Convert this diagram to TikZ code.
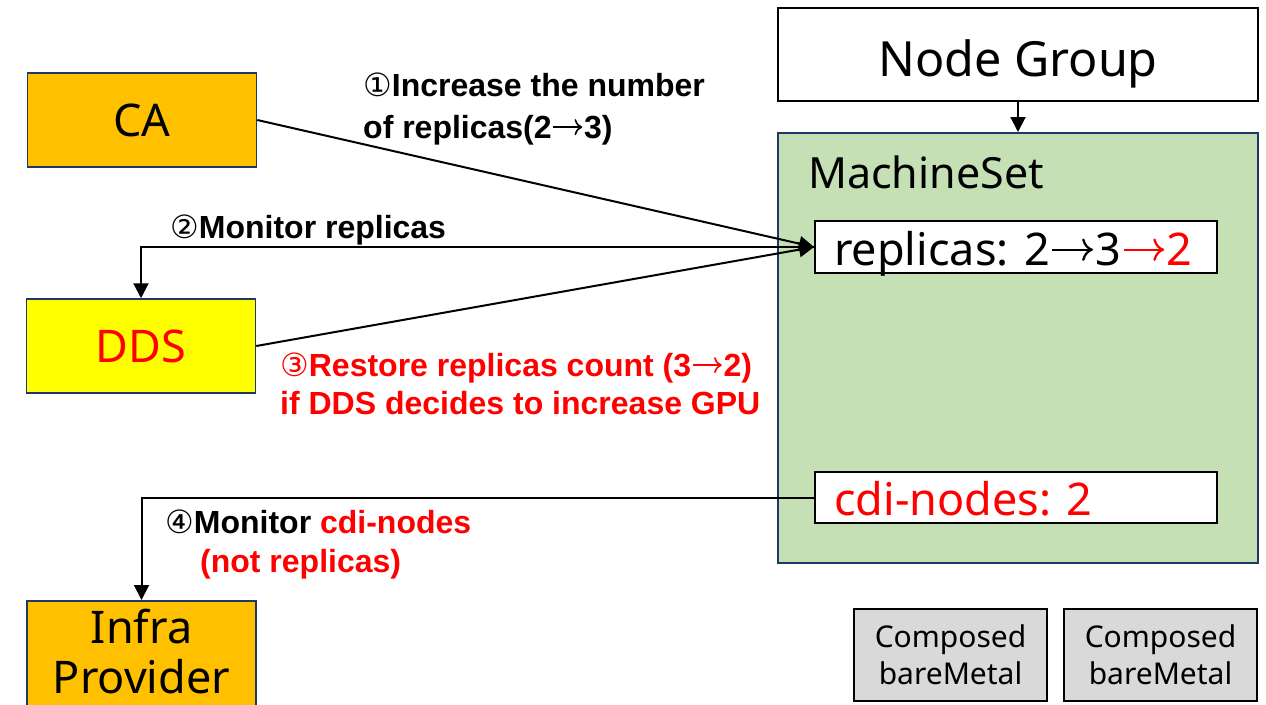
\documentclass[tikz,border=0pt]{standalone}
\usepackage{fontspec}
\setmainfont{Noto Sans}
\newfontfamily\labfont{Liberation Sans}
\newfontfamily\symfont{DejaVu Sans}
\usetikzlibrary{arrows.meta}
\definecolor{boxorange}{HTML}{FFC000}
\definecolor{boxyellow}{HTML}{FFFF00}
\definecolor{msgreen}{HTML}{C5E0B4}
\definecolor{bmgray}{HTML}{D9D9D9}
\definecolor{navy}{HTML}{203864}
\definecolor{hired}{HTML}{FF0000}
% thin text arrow, sized from the current font
\newcommand{\ra}{\hspace{0.03em}\tikz[baseline=-0.34em]\draw[line width=0.05em,-{To[length=0.24em,width=0.5em,line width=0.05em]}] (0pt,0pt) -- (0.9em,0pt);\hspace{0.03em}}
\newcommand{\circnum}[1]{{\symfont\mdseries #1}}
\tikzset{
  actor/.style={draw=navy, line width=1.5pt, minimum width=229pt, minimum height=94pt, inner sep=0pt, font=\fontsize{45}{50}\selectfont, align=center},
  plainbox/.style={draw=black, line width=2pt, fill=white, inner sep=0pt},
  bmbox/.style={draw=black, line width=2pt, fill=bmgray, minimum width=193pt, minimum height=92pt, inner sep=0pt, align=center, font=\fontsize{30}{37}\selectfont},
  lbl/.style={inner sep=0pt, anchor=base west, align=left, font=\labfont\bfseries\fontsize{32}{40}\selectfont},
  conn/.style={line width=2pt, draw=black},
  arr/.style={conn, -{Triangle[length=15pt,width=15pt]}}
}
\begin{document}
\begin{tikzpicture}[x=1pt,y=-1pt]
\clip (0,0) rectangle (1266,704);
\fill[white] (0,0) rectangle (1266,704);

% actors on the left
\node[actor, fill=boxorange] (ca) at (142,120) {CA};
\node[actor, fill=boxyellow, text=hired] (dds) at (141,346) {DDS};
\node[actor, fill=boxorange, minimum height=120pt, anchor=north] (infra) at (141.5,600) {};
\node[inner sep=0pt, anchor=base, align=center, font=\fontsize{45}{50}\selectfont] (infratext) at (141.5,693) {Infra\\Provider};

% node group and machine set
\node[plainbox, minimum width=480pt, minimum height=93pt] (ng) at (1018,54.5) {};
\node[inner sep=0pt, anchor=base, font=\fontsize{48.5}{54}\selectfont] (ngtext) at (1018,76) {Node Group};
\node[draw=navy, line width=2pt, fill=msgreen, minimum width=480pt, minimum height=430pt, inner sep=0pt] (ms) at (1018,348) {};
\node[inner sep=0pt, anchor=west, font=\fontsize{43}{50}\selectfont] (mstitle) at (808,172) {MachineSet};
\node[plainbox, minimum width=402pt, minimum height=52pt] (rep) at (1016,247) {};
\node[inner sep=0pt, anchor=base west, font=\fontsize{45}{50}\selectfont] (reptext) at (834,265) {replicas: 2\ra 3\textcolor{hired}{\ra 2}};
\node[plainbox, minimum width=402pt, minimum height=51pt] (cdi) at (1016,497.5) {};
\node[inner sep=0pt, anchor=base west, text=hired, font=\fontsize{45}{50}\selectfont] (cditext) at (834,515) {cdi-nodes: 2};

% composed bare-metal machines
\node[bmbox] (bm1) at (950.5,655) {Composed\\bareMetal};
\node[bmbox] (bm2) at (1160.5,655) {Composed\\bareMetal};

% connectors
\draw[arr] (ng.south) -- (ms.north);
\draw[arr] (ca.east) -- (rep.west);
\draw[arr] (dds.east) -- (rep.west);
\draw[arr] (rep.west) -| (dds.north);
\draw[arr] (cdi.west) -| (infra.north);

% step labels
\node[lbl, font=\labfont\bfseries\fontsize{32}{42}\selectfont] (l1) at (363,138) {\circnum{①}Increase the number\\of replicas(2\ra 3)};
\node[lbl] (l2) at (170,238) {\circnum{②}Monitor replicas};
\node[lbl, text=hired, font=\labfont\bfseries\fontsize{32}{38}\selectfont] (l3) at (280,414) {\circnum{③}Restore replicas count (3\ra 2)\\if DDS decides to increase GPU};
\node[lbl] (l4) at (165,533) {\circnum{④}Monitor \textcolor{hired}{cdi-nodes}};
\node[lbl, text=hired] (l4b) at (200,572) {(not replicas)};
\end{tikzpicture}
\end{document}
